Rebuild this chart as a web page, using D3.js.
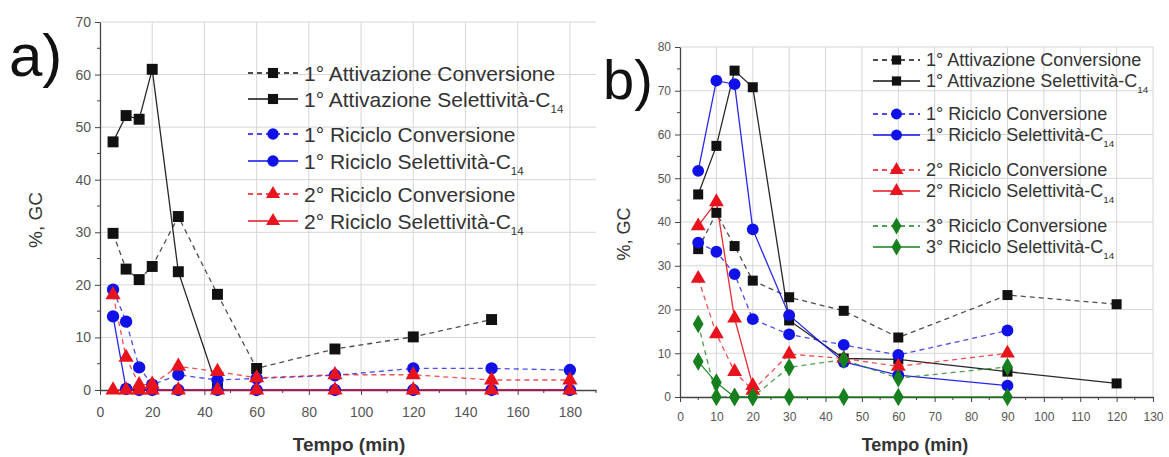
<!DOCTYPE html>
<html>
<head>
<meta charset="utf-8">
<script src="https://cdn.jsdelivr.net/npm/d3@7"></script>
<style>
  html, body { margin: 0; padding: 0; background: #fff; }
  svg { display: block; font-family: "Liberation Sans", Arial, sans-serif; }
</style>
</head>
<body>
<svg id="chart" width="1169" height="457"></svg>
<script>
// ---------- Panel a) ----------
const timesA = [5, 10, 15, 20, 30, 45, 60, 90, 120, 150, 180];
const attConvA = [29.8, 23.0, 21.0, 23.5, 33.0, 18.2, 4.1, 7.8, 10.1, 13.4, null];
const attSelA  = [47.2, 52.2, 51.5, 61.0, 22.5, 0.3, null, null, null, null, null];
const ric1ConvA = [19.1, 13.0, 4.3, 1.0, 2.9, 1.9, 2.2, 2.8, 4.1, 4.1, 3.8];
const ric1SelA  = [14.0, 0.2, 0, 0, 0, 0, 0, 0, 0, 0, 0];
const ric2ConvA = [18.1, 6.2, 1.0, 1.1, 4.5, 3.5, 2.3, 2.9, 2.9, 1.9, 1.9];
const ric2SelA  = [0, 0, 0, 0, 0, 0, 0, 0, 0, 0, 0];
const xTicksA = [0, 20, 40, 60, 80, 100, 120, 140, 160, 180];
const yTicksA = [0, 10, 20, 30, 40, 50, 60, 70];

// ---------- Panel b) ----------
const timesB = [5, 10, 15, 20, 30, 45, 60, 90, 120];
const attConvB = [33.8, 42.1, 34.5, 26.6, 22.8, 19.7, 13.6, 23.3, 21.2];
const attSelB  = [46.3, 57.4, 74.6, 70.8, 17.5, 8.8, 8.6, 5.8, 3.1];
const ric1ConvB = [35.3, 33.2, 28.1, 17.8, 14.3, 11.9, 9.6, 15.2, null];
const ric1SelB  = [51.7, 72.3, 71.5, 38.3, 18.7, 8.0, 5.0, 2.6, null];
const ric2ConvB = [27.1, 14.4, 5.8, 1.5, 9.8, 8.8, 7.0, 10.0, null];
const ric2SelB  = [39.1, 44.6, 18.0, 2.6, null, null, null, null, null];
const ric3ConvB = [16.7, 0, 0, 0, 6.8, 8.5, 4.3, 6.9, null];
const ric3SelB  = [8.1, 3.3, 0, 0, 0, 0, 0, 0, null];
const xTicksB = [0, 10, 20, 30, 40, 50, 60, 70, 80, 90, 100, 110, 120, 130];
const yTicksB = [0, 10, 20, 30, 40, 50, 60, 70, 80];

const legendA = [
  "1° Attivazione Conversione", "1° Attivazione Selettività-C",
  "1° Riciclo Conversione", "1° Riciclo Selettività-C",
  "2° Riciclo Conversione", "2° Riciclo Selettività-C"
];
const legendB = [
  "1° Attivazione Conversione", "1° Attivazione Selettività-C",
  "1° Riciclo Conversione", "1° Riciclo Selettività-C",
  "2° Riciclo Conversione", "2° Riciclo Selettività-C",
  "3° Riciclo Conversione", "3° Riciclo Selettività-C"
];

const BLACK = "#111", BLUE = "#1010e8", RED = "#e8131c", GREEN = "#16801e";

const svg = d3.select("#chart");

function markerPath(shape, size) {
  const sym = { square: d3.symbolSquare, circle: d3.symbolCircle,
                triangle: d3.symbolTriangle, diamond: d3.symbolDiamond }[shape];
  return d3.symbol().type(sym).size(size)();
}

function drawPanel(cfg) {
  const g = svg.append("g");
  const x = d3.scaleLinear().domain(cfg.xDomain).range([cfg.left, cfg.right]);
  const y = d3.scaleLinear().domain(cfg.yDomain).range([cfg.bottom, cfg.top]);

  // grid
  g.append("g").selectAll("line").data(cfg.xTicks.filter(t => t > 0))
    .join("line").attr("x1", d => x(d)).attr("x2", d => x(d))
    .attr("y1", cfg.bottom).attr("y2", cfg.top)
    .attr("stroke", "#d6d6d6").attr("stroke-width", 1);
  g.append("g").selectAll("line").data(cfg.yTicks.filter(t => t > 0))
    .join("line").attr("y1", d => y(d)).attr("y2", d => y(d))
    .attr("x1", cfg.left).attr("x2", cfg.right)
    .attr("stroke", "#d6d6d6").attr("stroke-width", 1);

  // minor ticks
  const xMinor = d3.range(cfg.xDomain[0], cfg.xDomain[1] + 0.001, cfg.xMinorStep)
    .filter(v => !cfg.xTicks.includes(v));
  const yMinor = d3.range(cfg.yDomain[0], cfg.yDomain[1] + 0.001, cfg.yMinorStep)
    .filter(v => !cfg.yTicks.includes(v));
  g.append("g").selectAll("line").data(xMinor).join("line")
    .attr("x1", d => x(d)).attr("x2", d => x(d))
    .attr("y1", cfg.bottom).attr("y2", cfg.bottom + 3)
    .attr("stroke", "#444");
  g.append("g").selectAll("line").data(yMinor).join("line")
    .attr("y1", d => y(d)).attr("y2", d => y(d))
    .attr("x1", cfg.left).attr("x2", cfg.left - 3)
    .attr("stroke", "#444");

  // axes
  const xAxis = g.append("g").attr("transform", `translate(0,${cfg.bottom})`)
    .call(d3.axisBottom(x).tickValues(cfg.xTicks).tickSize(5).tickPadding(cfg.xPad).tickSizeOuter(0));
  const yAxis = g.append("g").attr("transform", `translate(${cfg.left},0)`)
    .call(d3.axisLeft(y).tickValues(cfg.yTicks).tickSize(5).tickPadding(4).tickSizeOuter(0));
  [xAxis, yAxis].forEach(ax => {
    ax.select(".domain").attr("stroke", "#444").attr("stroke-width", 1.3);
    ax.selectAll(".tick line").attr("stroke", "#444");
    ax.selectAll(".tick text").attr("fill", "#555")
      .style("font-size", cfg.tickFont + "px").style("font-family", "Liberation Sans, Arial, sans-serif");
  });

  // series lines
  cfg.series.forEach(s => {
    const pts = cfg.times.map((t, i) => [t, s.values[i]]);
    const line = d3.line().defined(d => d[1] != null).x(d => x(d[0])).y(d => y(d[1]));
    g.append("path").datum(pts).attr("d", line).attr("fill", "none")
      .attr("stroke", s.color).attr("stroke-width", 1.3)
      .attr("stroke-opacity", s.dash ? 0.75 : 0.9)
      .attr("stroke-dasharray", s.dash ? "5,4" : null);
  });
  // series markers
  cfg.series.forEach(s => {
    const pts = cfg.times.map((t, i) => [t, s.values[i]]).filter(d => d[1] != null);
    g.append("g").selectAll("path").data(pts).join("path")
      .attr("transform", d => `translate(${x(d[0])},${y(d[1])})`)
      .attr("d", markerPath(s.shape, s.size))
      .attr("fill", s.color);
  });

  // axis titles
  g.append("text").attr("x", cfg.xTitle[0]).attr("y", cfg.xTitle[1])
    .attr("text-anchor", "middle").attr("fill", "#333")
    .style("font-size", cfg.titleFont + "px").style("font-weight", "bold")
    .text("Tempo (min)");
  g.append("text")
    .attr("transform", `translate(${cfg.yTitle[0]},${cfg.yTitle[1]}) rotate(-90)`)
    .attr("text-anchor", "middle").attr("fill", "#333")
    .style("font-size", cfg.titleFont + "px")
    .text(cfg.yTitleText);

  // panel letter
  g.append("text").attr("x", cfg.letter[0]).attr("y", cfg.letter[1])
    .attr("fill", "#111").style("font-size", cfg.letterFont + "px")
    .text(cfg.letterText);

  // legend
  cfg.legend.forEach((label, i) => {
    const s = cfg.series[i];
    const ly = cfg.legendY[i];
    g.append("line").attr("x1", cfg.legendX[0]).attr("x2", cfg.legendX[1])
      .attr("y1", ly).attr("y2", ly).attr("stroke", s.color).attr("stroke-width", 1.3)
      .attr("stroke-dasharray", s.dash ? "5,4" : null);
    g.append("path").attr("transform", `translate(${(cfg.legendX[0] + cfg.legendX[1]) / 2},${ly})`)
      .attr("d", markerPath(s.shape, s.size * 0.85)).attr("fill", s.color);
    const t = g.append("text").attr("x", cfg.legendX[1] + 6).attr("y", ly + cfg.legendFont * 0.36)
      .attr("fill", "#333").style("font-size", cfg.legendFont + "px").text(label);
    if (label.endsWith("-C")) {
      t.append("tspan").attr("dy", cfg.legendFont * 0.3)
        .style("font-size", (cfg.legendFont * 0.55) + "px").text("14");
    }
  });
}

drawPanel({
  left: 100, right: 596, top: 22, bottom: 390,
  xDomain: [0, 190], yDomain: [0, 70],
  xTicks: xTicksA, yTicks: yTicksA, xMinorStep: 10, yMinorStep: 5,
  xPad: 12, tickFont: 14,
  times: timesA,
  series: [
    { values: attConvA, color: BLACK, dash: true, shape: "square", size: 120 },
    { values: attSelA, color: BLACK, dash: false, shape: "square", size: 120 },
    { values: ric1ConvA, color: BLUE, dash: true, shape: "circle", size: 120 },
    { values: ric1SelA, color: BLUE, dash: false, shape: "circle", size: 120 },
    { values: ric2ConvA, color: RED, dash: true, shape: "triangle", size: 100 },
    { values: ric2SelA, color: RED, dash: false, shape: "triangle", size: 100 }
  ],
  xTitle: [349, 451], yTitle: [42, 220], yTitleText: "%, GC", titleFont: 19,
  letter: [9, 76], letterText: "a)", letterFont: 60,
  legend: legendA,
  legendX: [248, 298], legendY: [73, 99, 134, 161, 194, 221], legendFont: 21
});

drawPanel({
  left: 680, right: 1153, top: 47, bottom: 397,
  xDomain: [0, 130], yDomain: [0, 80],
  xTicks: xTicksB, yTicks: yTicksB, xMinorStep: 5, yMinorStep: 5,
  xPad: 10, tickFont: 12,
  times: timesB,
  series: [
    { values: attConvB, color: BLACK, dash: true, shape: "square", size: 100 },
    { values: attSelB, color: BLACK, dash: false, shape: "square", size: 100 },
    { values: ric1ConvB, color: BLUE, dash: true, shape: "circle", size: 110 },
    { values: ric1SelB, color: BLUE, dash: false, shape: "circle", size: 110 },
    { values: ric2ConvB, color: RED, dash: true, shape: "triangle", size: 95 },
    { values: ric2SelB, color: RED, dash: false, shape: "triangle", size: 95 },
    { values: ric3ConvB, color: GREEN, dash: true, shape: "diamond", size: 100 },
    { values: ric3SelB, color: GREEN, dash: false, shape: "diamond", size: 100 }
  ],
  xTitle: [915, 451], yTitle: [630, 234], yTitleText: "%, GC", titleFont: 18,
  letter: [603, 99], letterText: "b)", letterFont: 56,
  legend: legendB,
  legendX: [873, 920], legendY: [60, 81, 114, 135, 170, 191, 226, 247], legendFont: 18
});
</script>
</body>
</html>
